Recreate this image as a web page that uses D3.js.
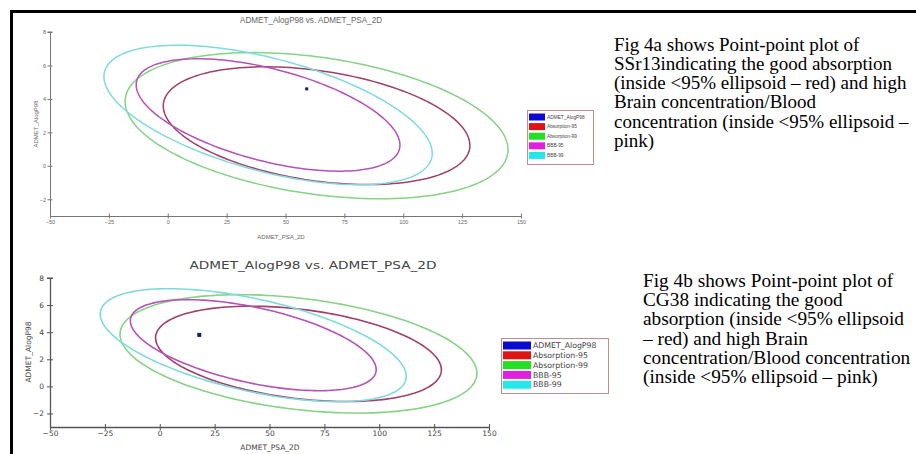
<!DOCTYPE html>
<html>
<head>
<meta charset="utf-8">
<script src="https://cdn.jsdelivr.net/npm/d3@7"></script>
<style>
  html, body { margin: 0; padding: 0; background: #fff; }
  svg { display: block; }
</style>
</head>
<body>
<svg id="chart" width="916" height="454"></svg>
<script>
// ---------------- data ----------------
const seriesNames = ["ADMET_AlogP98", "Absorption-95", "Absorption-99", "BBB-95", "BBB-99"];
const chartTitle = "ADMET_AlogP98 vs. ADMET_PSA_2D";
const xLabel = "ADMET_PSA_2D";
const yLabel = "ADMET_AlogP98";
const xTicks = [-50, -25, 0, 25, 50, 75, 100, 125, 150];
const yTicks = [-2, 0, 2, 4, 6, 8];
const xDomain = [-50, 150];
const yDomain = [-3, 8];

// ellipses (order: Absorption-95, Absorption-99, BBB-95, BBB-99), data units
const ellipseNames   = ["Absorption-95", "Absorption-99", "BBB-95", "BBB-99"];
const ellipseCx      = [63.2, 63.2, 42.6, 42.6];
const ellipseCy      = [2.40, 2.40, 3.04, 3.04];
const ellipseRx      = [65.1, 81.3, 56.0, 69.7];
const ellipseRy      = [3.52, 4.37, 3.36, 4.17];
const ellipseYAtLeftOffset = [1.18, 1.44, 1.80, 2.30]; // y(left end) - cy

// compound points
const pointFig4a = [59, 4.6];
const pointFig4b = [18, 3.8];

const captionFig4a = [
  "Fig 4a shows Point-point plot of",
  "SSr13indicating the good absorption",
  "(inside <95% ellipsoid \u2013 red) and high",
  "Brain concentration/Blood",
  "concentration (inside <95% ellipsoid \u2013",
  "pink)"
];
const captionFig4b = [
  "Fig 4b shows Point-point plot of",
  "CG38 indicating the good",
  "absorption (inside <95% ellipsoid",
  "\u2013 red) and high Brain",
  "concentration/Blood concentration",
  "(inside <95% ellipsoid \u2013 pink)"
];

// ---------------- styles ----------------
const lineColors   = {"Absorption-95": "#a0406a", "Absorption-99": "#86d286", "BBB-95": "#b552b5", "BBB-99": "#80dadc"};
const swatchColors = ["#0a0ad0", "#e01414", "#22e022", "#e020e0", "#22e8e8"];
const pointColor = "#1a1a6a";

const svg = d3.select("#chart");

// frame
svg.append("path")
  .attr("d", "M11.5,454 V11.5 H916")
  .attr("fill", "none").attr("stroke", "#000").attr("stroke-width", 3);

function drawChart(cfg) {
  const g = svg.append("g");
  const x = d3.scaleLinear().domain(xDomain).range(cfg.xRange);
  const y = d3.scaleLinear().domain(yDomain).range(cfg.yRange);

  // ellipses
  const ts = d3.range(0, 2 * Math.PI, Math.PI / 90);
  ellipseNames.forEach((name, i) => {
    const cosPhi = -ellipseYAtLeftOffset[i] / ellipseRy[i];
    const phi = Math.acos(Math.max(-1, Math.min(1, cosPhi)));
    const pts = ts.map(t => [
      ellipseCx[i] + ellipseRx[i] * Math.cos(t),
      ellipseCy[i] + ellipseRy[i] * Math.cos(t - phi)
    ]);
    g.append("path")
      .attr("d", d3.line().x(d => x(d[0])).y(d => y(d[1])).curve(d3.curveLinearClosed)(pts))
      .attr("fill", "none")
      .attr("stroke", lineColors[name])
      .attr("stroke-width", cfg.lineWidth);
  });

  // axes
  const xAxis = g.append("g")
    .attr("transform", `translate(0,${y(yDomain[0])})`)
    .call(d3.axisBottom(x).tickValues(xTicks).tickSizeInner(cfg.tick).tickSizeOuter(0).tickFormat(d3.format("d")));
  xAxis.selectAll(".tick line").attr("y1", -cfg.tick).attr("y2", cfg.tick);
  xAxis.selectAll(".tick text").attr("y", cfg.xTickDy).attr("dy", "0.71em");

  const yAxis = g.append("g")
    .attr("transform", `translate(${x(xDomain[0])},0)`)
    .call(d3.axisLeft(y).tickValues(yTicks).tickSizeInner(cfg.tick).tickSizeOuter(0).tickFormat(d3.format("d")));
  yAxis.selectAll(".tick line").attr("x1", -cfg.tick).attr("x2", cfg.tick);
  yAxis.selectAll(".tick text").attr("x", -cfg.yTickDx);
  yAxis.append("line").attr("x1", -cfg.tick).attr("x2", cfg.tick)
    .attr("y1", y(yDomain[1])).attr("y2", y(yDomain[1])).attr("stroke", cfg.axisColor);

  [xAxis, yAxis].forEach(a => {
    a.select(".domain").attr("stroke", cfg.axisColor).attr("stroke-width", cfg.axisWidth);
    a.selectAll(".tick line").attr("stroke", cfg.axisColor);
    a.selectAll(".tick text").attr("fill", cfg.textColor)
      .style("font-family", cfg.font).style("font-size", cfg.tickFont + "px");
  });

  // point
  g.append("rect")
    .attr("x", x(cfg.point[0]) - cfg.pointSize / 2)
    .attr("y", y(cfg.point[1]) - cfg.pointSize / 2)
    .attr("width", cfg.pointSize).attr("height", cfg.pointSize)
    .attr("fill", pointColor);

  // title
  g.append("text")
    .attr("x", cfg.titlePos[0]).attr("y", cfg.titlePos[1])
    .attr("text-anchor", "middle")
    .attr("textLength", cfg.titleLength).attr("lengthAdjust", "spacingAndGlyphs")
    .style("font-family", cfg.font).style("font-size", cfg.titleFont + "px")
    .attr("fill", cfg.textColor)
    .text(chartTitle);

  // axis labels
  g.append("text")
    .attr("x", cfg.xLabelPos[0]).attr("y", cfg.xLabelPos[1])
    .attr("text-anchor", "middle")
    .style("font-family", cfg.font).style("font-size", cfg.labelFont + "px")
    .attr("fill", cfg.textColor)
    .text(xLabel);
  g.append("text")
    .attr("transform", `translate(${cfg.yLabelPos[0]},${cfg.yLabelPos[1]}) rotate(-90)`)
    .attr("text-anchor", "middle")
    .style("font-family", cfg.font).style("font-size", cfg.labelFont + "px")
    .attr("fill", cfg.textColor)
    .text(yLabel);

  // legend
  const L = cfg.legend;
  const lg = g.append("g").attr("transform", `translate(${L.x},${L.y})`);
  lg.append("rect").attr("x", 0.5).attr("y", 0.5).attr("width", L.w).attr("height", L.h)
    .attr("fill", "#fff").attr("stroke", "#b89090").attr("stroke-width", 1);
  seriesNames.forEach((name, i) => {
    const ry = L.top + i * L.step;
    lg.append("rect").attr("x", L.swX).attr("y", ry - L.swH / 2)
      .attr("width", L.swW).attr("height", L.swH).attr("fill", swatchColors[i]);
    lg.append("text").attr("x", L.swX + L.swW + 2).attr("y", ry).attr("dy", "0.35em")
      .style("font-family", cfg.font).style("font-size", L.font + "px")
      .attr("fill", "#444").text(name);
  });
}

// Fig 4a (top)
drawChart({
  xRange: [50, 521], yRange: [216, 32],
  tick: 2.5, xTickDy: 4, yTickDx: 4,
  axisColor: "#777", axisWidth: 1, textColor: "#666",
  font: "'Liberation Sans', Arial, sans-serif",
  tickFont: 5.5, titleFont: 9, titleLength: 142, labelFont: 6,
  titlePos: [311, 23], xLabelPos: [281, 239], yLabelPos: [38, 124],
  lineWidth: 1.5, point: pointFig4a, pointSize: 3,
  legend: {x: 527, y: 110, w: 66, h: 54, top: 7, step: 9.6, swX: 2, swW: 16, swH: 7, font: 4.8}
});

// Fig 4b (bottom)
drawChart({
  xRange: [50, 489], yRange: [427, 278],
  tick: 3, xTickDy: 4, yTickDx: 6,
  axisColor: "#555", axisWidth: 1.3, textColor: "#444",
  font: "'DejaVu Sans', Verdana, sans-serif",
  tickFont: 7.5, titleFont: 11, titleLength: 247, labelFont: 7.5,
  titlePos: [313, 269], xLabelPos: [270, 450], yLabelPos: [31, 352],
  lineWidth: 1.6, point: pointFig4b, pointSize: 4,
  legend: {x: 501, y: 338, w: 107, h: 55, top: 7.5, step: 9.8, swX: 2, swW: 28, swH: 8, font: 7.8}
});

// captions
function caption(lines, x0, y0, step, size) {
  const t = svg.append("text")
    .style("font-family", "'Liberation Serif', 'Times New Roman', serif")
    .style("font-size", size + "px").attr("fill", "#000");
  lines.forEach((s, i) => {
    t.append("tspan").attr("x", x0).attr("y", y0 + i * step).text(s);
  });
}
caption(captionFig4a, 614, 50.7, 19.2, 19);
caption(captionFig4b, 643, 286.7, 19.3, 19.3);
</script>
</body>
</html>
